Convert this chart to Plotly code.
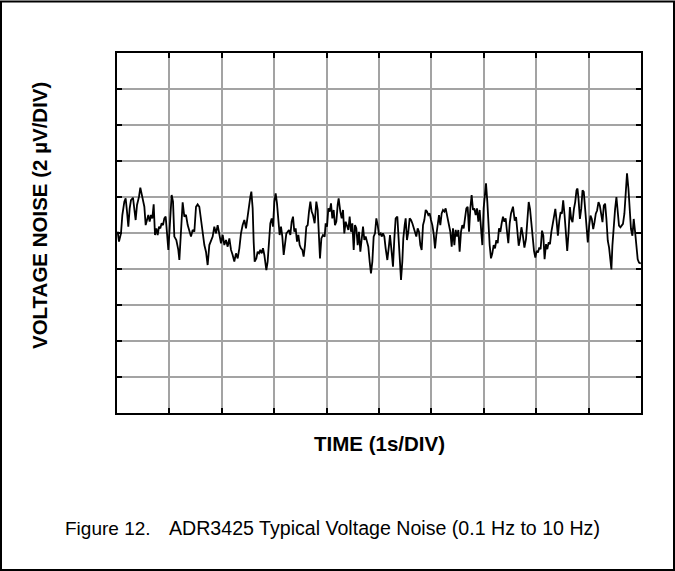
import plotly.graph_objects as go

# 0.1 Hz to 10 Hz voltage noise trace of the ADR3425, time in s, noise in uV
t_seg1 = [0.013, 0.038, 0.076, 0.102, 0.140, 0.165, 0.191, 0.216, 0.242, 0.267,
          0.305, 0.331, 0.356, 0.382, 0.420, 0.445, 0.471, 0.496, 0.522, 0.547,
          0.573, 0.598, 0.623, 0.649, 0.674, 0.700, 0.725, 0.751, 0.776, 0.802,
          0.827, 0.852, 0.878, 0.903, 0.929, 0.954, 0.980, 1.005, 1.043, 1.069,
          1.094, 1.132, 1.170, 1.190, 1.221]
v_seg1 = [0.07, -0.48, -0.02, 1.00, 1.74, 1.93, 1.19, 0.35, 1.37, 1.83,
          1.96, 1.37, 0.72, 1.56, 2.02, 2.52, 2.20, 1.74, 1.46, 0.44,
          0.81, 1.00, 0.63, 1.00, 0.81, 1.59, -0.11, 0.26, -0.11, 0.35,
          0.26, 0.54, 0.44, 0.81, 0.91, -0.11, -0.94, 0.26, 2.11, 1.74,
          -0.20, -0.39, -0.94, -1.50, 0.07]

t_seg2 = [1.253, 1.285, 1.317, 1.349, 1.380, 1.412, 1.444, 1.476, 1.508, 1.539,
          1.571, 1.603, 1.635, 1.667, 1.698, 1.730, 1.762, 1.794, 1.826, 1.857,
          1.889, 1.921, 1.953, 1.985, 2.017, 2.048, 2.080, 2.112, 2.144, 2.176,
          2.207, 2.239, 2.271, 2.303, 2.335, 2.366, 2.398, 2.430, 2.462, 2.494]
v_seg2 = [1.70, 0.91, 1.00, 0.44, 0.07, -0.20, 0.17, 0.07, 1.46, 1.59,
          1.46, 0.63, -0.02, -0.67, -1.04, -1.78, -0.67, -0.39, -0.20, 0.35,
          -0.02, 0.44, -0.20, -0.57, -0.11, -0.67, -0.39, -0.76, -0.30, -0.94,
          -1.22, -1.59, -1.13, -1.41, -0.85, -0.02, 0.44, 0.72, 0.26, 1.00]

t_seg3 = [2.513, 2.545, 2.564, 2.589, 2.608, 2.627, 2.659, 2.684, 2.710, 2.735,
          2.761, 2.786, 2.812, 2.831, 2.850, 2.875, 2.901, 2.926, 2.952, 2.977,
          3.003, 3.028, 3.053, 3.079, 3.104, 3.130, 3.155, 3.181, 3.206, 3.232,
          3.257, 3.282, 3.308, 3.333, 3.359, 3.384, 3.410, 3.435, 3.461, 3.486,
          3.511, 3.537, 3.562, 3.588, 3.613, 3.639, 3.664, 3.690, 3.715, 3.740]
v_seg3 = [1.56, 2.02, 2.30, 1.37, -0.48, -1.59, -1.41, -1.04, -1.13, -0.94,
          -1.13, -0.85, -1.22, -1.59, -2.06, -1.59, -0.67, 0.54, 0.81, 0.35,
          1.74, 2.20, 1.65, 0.72, -0.11, 0.35, -0.20, -1.22, -0.67, -0.02,
          0.07, 0.17, -0.11, 0.63, 0.91, 0.07, 0.26, -0.48, -0.11, -0.67,
          -0.85, -0.94, -1.31, -0.67, 0.35, 0.44, 1.19, 1.74, 1.19, 1.00]

t_seg4 = [3.772, 3.804, 3.830, 3.855, 3.874, 3.900, 3.931, 3.963, 3.982, 4.008,
          4.033, 4.059, 4.084, 4.109, 4.135, 4.160, 4.186, 4.211, 4.230, 4.262,
          4.288, 4.313, 4.338, 4.364, 4.389, 4.415, 4.440, 4.466, 4.491, 4.517,
          4.542, 4.567, 4.593, 4.618, 4.644, 4.669, 4.695, 4.720, 4.746, 4.771,
          4.796, 4.822, 4.847, 4.873, 4.898, 4.924, 4.949, 4.975]
v_seg4 = [0.54, 1.74, 1.28, -0.48, -1.41, -0.30, -0.11, -0.20, 0.54, 0.35,
          1.37, 1.19, 1.65, 0.81, 1.28, 0.44, 0.63, 1.56, 1.93, 1.19,
          0.81, 1.28, -0.02, 0.63, 0.44, 0.17, 0.91, 0.07, 0.54, -0.94,
          0.44, 0.26, -0.67, 0.07, -1.04, -0.30, 0.35, -0.39, -0.20, -0.48,
          -0.76, -1.59, -2.24, -1.59, -0.20, -0.02, 0.81, 0.44]

t_seg5 = [5.000, 5.032, 5.051, 5.076, 5.102, 5.127, 5.159, 5.191, 5.210, 5.235,
          5.267, 5.293, 5.318, 5.350, 5.369, 5.395, 5.420, 5.445, 5.464, 5.490,
          5.509, 5.534, 5.560, 5.585, 5.611, 5.636, 5.662, 5.687, 5.712, 5.738,
          5.763, 5.789, 5.814, 5.840, 5.865, 5.891, 5.916, 5.941, 5.967, 5.992,
          6.018, 6.043, 6.069, 6.094, 6.120, 6.145, 6.170, 6.196, 6.221, 6.247,
          6.272]
v_seg5 = [-0.11, -0.02, -0.20, -0.02, -0.20, -0.85, -1.50, -0.67, -0.11, -0.85,
          -1.87, -0.30, 0.81, 0.91, 0.07, -1.41, -2.61, -1.59, -0.30, 0.44,
          0.81, -0.39, 0.07, 0.81, 0.72, 0.54, 0.26, -0.02, -0.20, 0.26,
          0.07, -0.67, -0.94, 0.44, 0.72, 1.28, 1.19, 1.00, 1.09, 0.72,
          0.44, -0.02, -0.85, -0.11, 0.54, 1.00, 0.44, 1.09, 1.28, 1.19,
          1.37]

t_seg6 = [6.285, 6.310, 6.336, 6.361, 6.387, 6.412, 6.438, 6.463, 6.489, 6.514,
          6.539, 6.565, 6.590, 6.616, 6.641, 6.667, 6.692, 6.718, 6.743, 6.768,
          6.794, 6.819, 6.845, 6.870, 6.896, 6.921, 6.947, 6.972, 6.997, 7.023,
          7.042, 7.067, 7.093, 7.112, 7.137, 7.163, 7.188, 7.214, 7.239, 7.265,
          7.290, 7.316, 7.341, 7.366, 7.392, 7.417, 7.443, 7.468, 7.494, 7.519,
          7.557]
v_seg6 = [1.19, 0.72, 0.54, 0.07, -0.76, 0.26, -0.67, 0.17, -0.20, 0.17,
          -1.04, 0.07, 0.44, 0.26, 0.81, 1.37, 1.46, 0.07, 1.37, 2.11,
          1.28, 1.37, 1.00, 1.37, 0.63, 1.28, 0.26, -0.67, 1.37, 2.30,
          2.76, 1.74, 0.26, -0.67, -1.41, -1.13, -0.67, -0.85, -0.39, -0.57,
          0.26, 0.07, 0.54, 0.91, 0.63, 0.81, 0.07, -0.57, 0.54, 1.09,
          1.46]

t_seg7 = [7.590, 7.616, 7.647, 7.666, 7.691, 7.718, 7.742, 7.775, 7.805, 7.832,
          7.857, 7.882, 7.907, 7.933, 7.958, 7.983, 8.009, 8.034, 8.059, 8.084,
          8.111, 8.136, 8.160, 8.187, 8.212, 8.237, 8.263, 8.288, 8.313, 8.340,
          8.365, 8.389, 8.414, 8.441, 8.466, 8.490, 8.515, 8.542, 8.567, 8.592,
          8.618, 8.643, 8.668, 8.693, 8.720, 8.744, 8.769, 8.788, 8.807, 8.834,
          8.859, 8.884, 8.908, 8.935, 8.960, 8.985, 9.011, 9.036, 9.061, 9.088,
          9.113, 9.137, 9.162, 9.189, 9.214, 9.239, 9.265, 9.290, 9.315, 9.340,
          9.366, 9.391, 9.416, 9.435, 9.454, 9.479, 9.506, 9.531, 9.555, 9.580,
          9.607, 9.632, 9.656, 9.683, 9.708, 9.733, 9.760, 9.784, 9.809, 9.836,
          9.861, 9.885, 9.912, 9.937, 9.962, 9.995]
v_seg7 = [0.69, 0.88, -0.06, -0.71, -0.34, 0.32, -0.06, -0.81, -0.34, 0.88,
          1.72, 1.34, 0.60, -0.34, -0.99, -1.37, -0.99, -1.08, -0.81, -0.90,
          0.13, -0.15, -1.46, -0.62, -0.90, -0.52, -0.62, 0.04, 0.41, 0.78,
          1.34, 0.69, -0.15, 0.69, 1.16, 1.07, 1.81, 0.97, -0.15, -0.99,
          0.04, 1.44, 0.78, 0.60, 1.34, 1.72, 2.37, 2.47, 1.91, 0.78,
          1.34, 2.37, 2.28, 1.34, 0.41, -0.52, 0.41, 0.97, 0.78, 0.22,
          0.60, 1.07, 1.25, 1.72, 1.53, 1.16, 0.60, 1.53, 1.63, 0.78,
          -0.43, -0.81, -1.46, -2.02, -0.71, 0.41, 1.34, 2.00, 1.34, 0.41,
          0.32, 0.41, 0.51, 1.07, 2.37, 3.31, 2.47, 1.34, 0.22, -0.15,
          0.78, 0.13, -0.71, -1.46, -1.64, -1.70]

time_s = t_seg1 + t_seg2 + t_seg3 + t_seg4 + t_seg5 + t_seg6 + t_seg7
noise_uv = v_seg1 + v_seg2 + v_seg3 + v_seg4 + v_seg5 + v_seg6 + v_seg7

x_title = "TIME (1s/DIV)"
y_title = "VOLTAGE NOISE (2 µV/DIV)"
fig_label = "Figure 12."
fig_caption = "ADR3425 Typical Voltage Noise (0.1 Hz to 10 Hz)"

FONT = "Arial, 'Liberation Sans', sans-serif"
W, H = 675, 571
ML, MR, MT, MB = 117, 34, 53, 158
PW, PH = W - ML - MR, H - MT - MB


def px(x):
    return (x - ML) / PW


def py(y):
    return (H - MB - y) / PH


fig = go.Figure()
fig.add_trace(go.Scatter(
    x=time_s, y=noise_uv, mode="lines",
    line=dict(color="black", width=1.8),
    hoverinfo="skip", showlegend=False,
))

axis_common = dict(
    showgrid=True, gridcolor="#a3a3a3", gridwidth=1.5,
    showline=True, linecolor="black", linewidth=2, mirror="ticks",
    ticks="inside", ticklen=5, tickwidth=1.5, tickcolor="black",
    showticklabels=False, zeroline=False, fixedrange=True,
)
fig.update_xaxes(range=[0, 10], tick0=0, dtick=1, **axis_common)
fig.update_yaxes(range=[-10, 10], tick0=-10, dtick=2, **axis_common)

annotations = [
    dict(text=f"<b>{x_title}</b>", x=px(379.5), y=py(443),
         font=dict(size=20.5, family=FONT, color="black")),
    dict(text=f"<b>{y_title}</b>", x=px(40), y=py(216), textangle=-90,
         font=dict(size=20.5, family=FONT, color="black")),
    dict(text=fig_label, x=px(63), y=py(528), xanchor="left",
         font=dict(size=19, family=FONT, color="black")),
    dict(text=fig_caption, x=px(167), y=py(528), xanchor="left",
         font=dict(size=19.6, family=FONT, color="black")),
]
for a in annotations:
    a.update(xref="paper", yref="paper", showarrow=False)
    a.setdefault("xanchor", "center")
    a.setdefault("yanchor", "middle")

fig.update_layout(
    width=W, height=H,
    margin=dict(l=ML, r=MR, t=MT, b=MB),
    paper_bgcolor="white", plot_bgcolor="white",
    annotations=annotations,
    shapes=[
        dict(type="rect", xref="paper", yref="paper",
             x0=px(1), x1=px(W - 1), y0=py(H - 1), y1=py(1.5),
             line=dict(color="black", width=2)),
    ],
)

fig.write_html("out.html", config={"displayModeBar": False})
